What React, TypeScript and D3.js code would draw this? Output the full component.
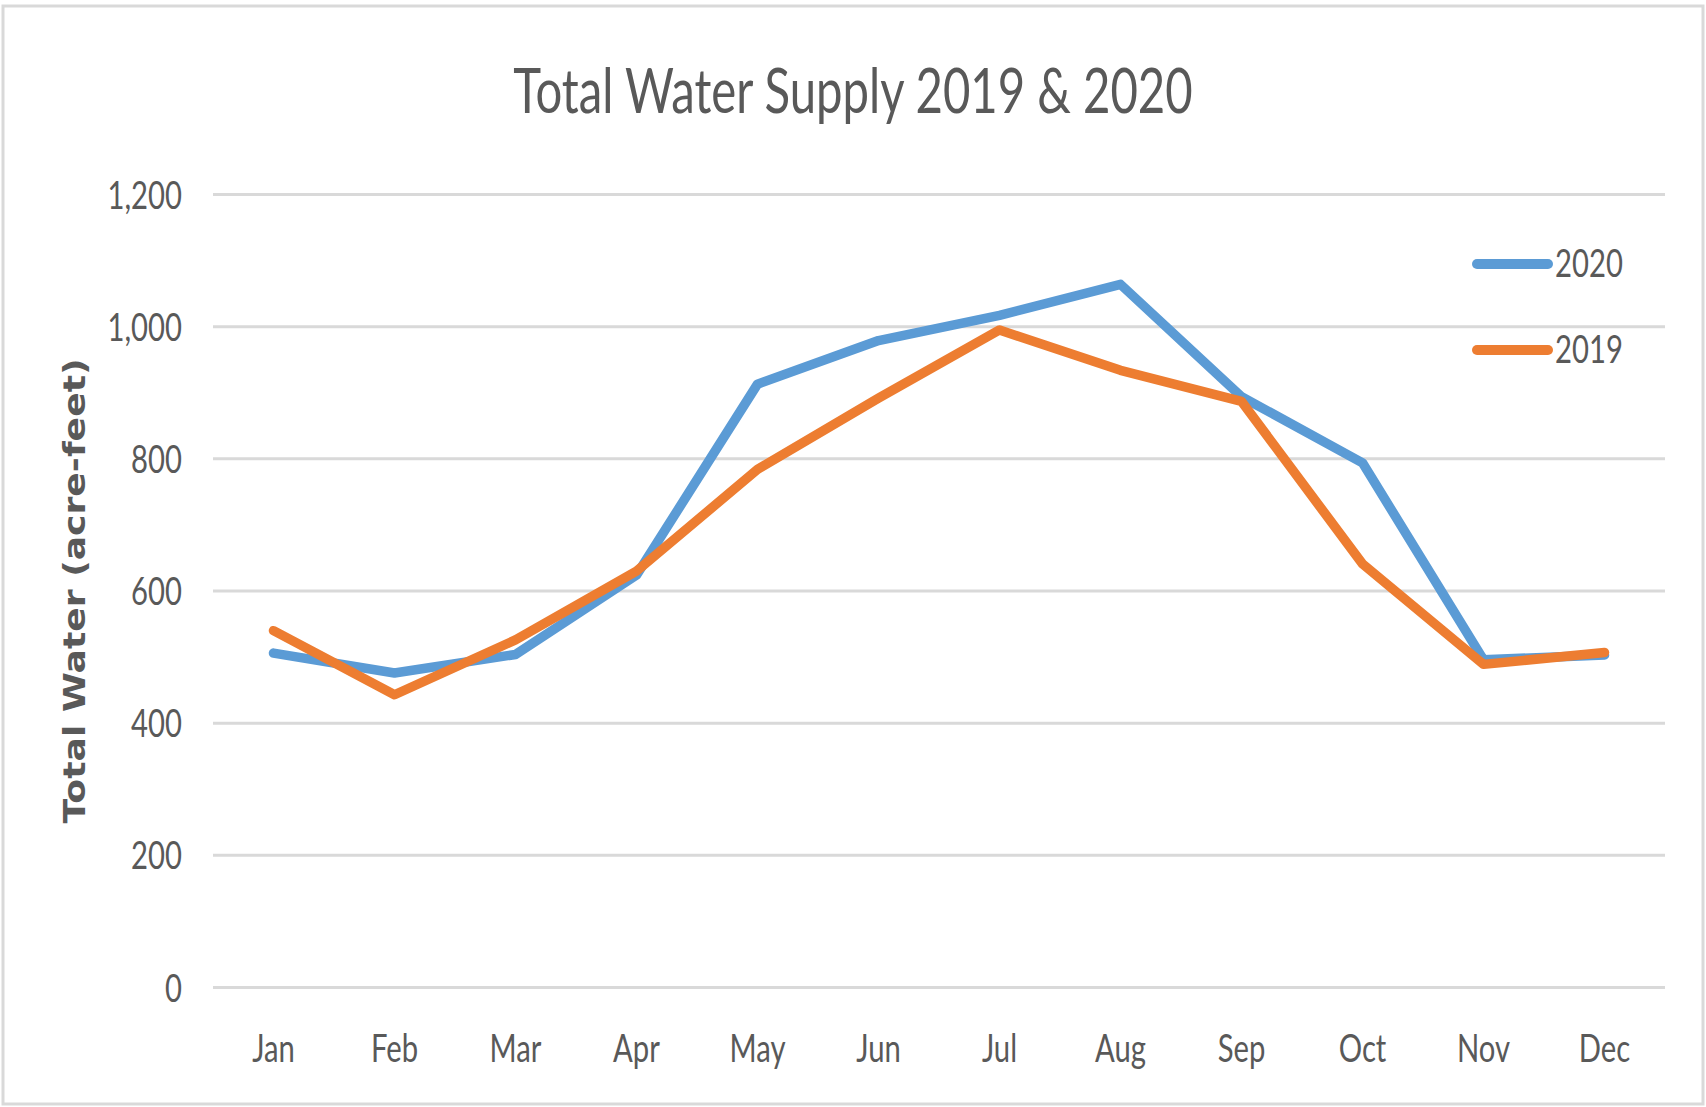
import React from 'react';
import * as d3 from 'd3';

// chart values
const months = ['Jan', 'Feb', 'Mar', 'Apr', 'May', 'Jun', 'Jul', 'Aug', 'Sep', 'Oct', 'Nov', 'Dec'];
const supply2020 = [506, 476, 504, 624, 913, 979, 1017, 1064, 894, 794, 496, 503];
const supply2019 = [540, 443, 526, 630, 784, 892, 995, 934, 887, 641, 489, 507];
const yTicks = [0, 200, 400, 600, 800, 1000, 1200];
const seriesNames = ['2020', '2019'];

const W = 1706;
const H = 1107;
const margin = { top: 194.5, right: 41, bottom: 119.5, left: 213 };
const textColor = '#595959';
const gridColor = '#D9D9D9';
const colors = { '2020': '#5B9BD5', '2019': '#ED7D31' };
const squeeze = 0.75; // the source text is narrow
const font = 'Lato, "Open Sans", sans-serif';

const App = () => {
  const x = d3.scalePoint<string>()
    .domain(months)
    .range([margin.left, W - margin.right])
    .padding(0.5);

  const y = d3.scaleLinear()
    .domain([0, 1200])
    .range([H - margin.bottom, margin.top]);

  const line = d3.line<number>()
    .x((_, i) => x(months[i]) as number)
    .y(d => y(d));

  const series = [
    { name: '2020', values: supply2020 },
    { name: '2019', values: supply2019 },
  ];

  const tickFmt = d3.format(',');

  return (
    <svg width={W} height={H} style={{ position: 'absolute', left: 0, top: 0, background: '#fff' }}>
      <rect x={3} y={6} width={W - 6} height={H - 9} fill="#fff" stroke={gridColor} strokeWidth={3} />

      {/* title */}
      <text
        transform={`translate(853,113) scale(0.775,1)`}
        textAnchor="middle"
        fontFamily={font}
        fontSize={61}
        fill={textColor}
      >
        Total Water Supply 2019 &amp; 2020
      </text>

      {/* grid + y ticks */}
      {yTicks.map(t => (
        <g key={t}>
          <line x1={margin.left} x2={W - margin.right} y1={y(t)} y2={y(t)} stroke={gridColor} strokeWidth={3} />
          <text
            transform={`translate(182,${y(t) + 14}) scale(${squeeze},1)`}
            textAnchor="end"
            fontFamily={font}
            fontSize={39}
            fill={textColor}
          >
            {tickFmt(t)}
          </text>
        </g>
      ))}

      {/* x labels */}
      {months.map(m => (
        <text
          key={m}
          transform={`translate(${x(m)},1062) scale(${squeeze},1)`}
          textAnchor="middle"
          fontFamily={font}
          fontSize={39}
          fill={textColor}
        >
          {m}
        </text>
      ))}

      {/* y axis title */}
      <text
        transform={`translate(85,${(y(0) + y(1200)) / 2}) rotate(-90)`}
        textAnchor="middle"
        fontFamily='"DejaVu Sans", Verdana, sans-serif'
        fontWeight="bold"
        fontSize={30}
        textLength={465}
        lengthAdjust="spacingAndGlyphs"
        fill={textColor}
      >
        Total Water (acre-feet)
      </text>

      {/* lines */}
      {series.map(s => (
        <path
          key={s.name}
          d={line(s.values) || ''}
          fill="none"
          stroke={colors[s.name as '2020' | '2019']}
          strokeWidth={9.5}
          strokeLinejoin="round"
          strokeLinecap="round"
        />
      ))}

      {/* legend */}
      {seriesNames.map((name, i) => {
        const ly = 264 + i * 86;
        return (
          <g key={name}>
            <line x1={1477} x2={1548} y1={ly} y2={ly} stroke={colors[name as '2020' | '2019']} strokeWidth={10} strokeLinecap="round" />
            <text
              transform={`translate(1555,${ly + 13}) scale(${squeeze},1)`}
              fontFamily={font}
              fontSize={39}
              fill={textColor}
            >
              {name}
            </text>
          </g>
        );
      })}
    </svg>
  );
};

export default App;
